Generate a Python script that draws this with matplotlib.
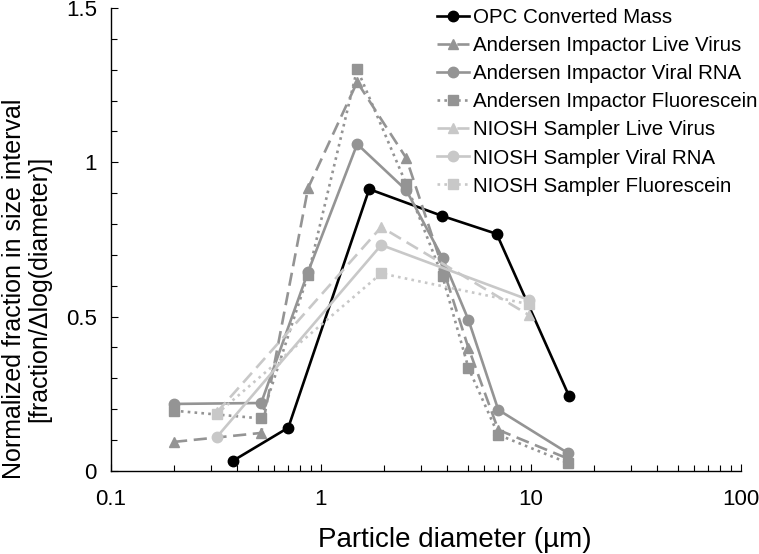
import matplotlib
matplotlib.use("Agg")
import matplotlib.pyplot as plt
from matplotlib.ticker import FixedLocator, MultipleLocator, NullFormatter

plt.rcParams['font.family'] = ['Liberation Sans', 'DejaVu Sans']

# OPC converted mass
opc_x = [0.38, 0.70, 1.70, 3.79, 6.88, 15.2]
opc_y = [0.032, 0.14, 0.913, 0.826, 0.768, 0.243]

# Andersen impactor stages
and_x = [0.2, 0.52, 0.87, 1.49, 2.55, 3.8, 5.05, 7.0, 15.0]
and_virus = [0.094, 0.123, 0.917, 1.26, 1.014, 0.66, 0.398, 0.133, 0.04]
and_rna = [0.217, 0.22, 0.645, 1.059, 0.91, 0.69, 0.489, 0.198, 0.058]
and_fluor = [0.195, 0.17, 0.635, 1.302, 0.93, 0.63, 0.333, 0.117, 0.026]

# NIOSH sampler fractions
niosh_x = [0.32, 1.94, 9.8]
niosh_virus = [0.19, 0.79, 0.505]
niosh_rna = [0.11, 0.732, 0.554]
niosh_fluor = [0.185, 0.64, 0.54]

dark = "#949494"
light = "#c8c8c8"

fig = plt.figure(figsize=(7.59, 5.54), dpi=100)
ax = fig.add_axes([0.146, 0.150, 0.830, 0.8356])

lw = 1.9
ms = 7.5
ax.plot(opc_x, opc_y, color="black", lw=lw, marker="o", ms=ms, label="OPC Converted Mass")
ax.plot(and_x, and_virus, color=dark, lw=lw, ls=(0, (5, 2.5)), marker="^", ms=ms,
        label="Andersen Impactor Live Virus")
ax.plot(and_x, and_rna, color=dark, lw=lw, marker="o", ms=ms, label="Andersen Impactor Viral RNA")
ax.plot(and_x, and_fluor, color=dark, lw=lw, ls=(0, (1, 1.6)), marker="s", ms=ms,
        label="Andersen Impactor Fluorescein")
ax.plot(niosh_x, niosh_virus, color=light, lw=lw, ls=(0, (5, 2.5)), marker="^", ms=ms,
        label="NIOSH Sampler Live Virus")
ax.plot(niosh_x, niosh_rna, color=light, lw=lw, marker="o", ms=ms, label="NIOSH Sampler Viral RNA")
ax.plot(niosh_x, niosh_fluor, color=light, lw=lw, ls=(0, (1, 1.6)), marker="s", ms=ms,
        label="NIOSH Sampler Fluorescein")

ax.set_xscale("log")
ax.set_xlim(0.1, 100)
ax.set_ylim(0, 1.5)
ax.set_xticks([0.1, 1, 10, 100])
ax.set_xticklabels(["0.1", "1", "10", "100"])
ax.xaxis.set_minor_formatter(NullFormatter())
ax.yaxis.set_major_locator(FixedLocator([0, 0.5, 1, 1.5]))
ax.set_yticklabels(["0", "0.5", "1", "1.5"])
ax.yaxis.set_minor_locator(MultipleLocator(0.1))

for side in ["top", "right"]:
    ax.spines[side].set_visible(False)
for side in ["left", "bottom"]:
    ax.spines[side].set_linewidth(1.0)

ax.tick_params(which="both", direction="in", labelsize=16, width=0.8)
ax.tick_params(which="major", length=5)
ax.tick_params(which="minor", length=4)
ax.tick_params(axis="x", pad=13)
ax.tick_params(axis="y", pad=10)

ax.set_xlabel("Particle diameter (\u00b5m)", fontsize=20)
ax.xaxis.set_label_coords(0.546, -0.122)
ax.set_ylabel("Normalized fraction in size interval\n[fraction/\u0394log(diameter)]",
              fontsize=18, linespacing=1.05)
ax.yaxis.set_label_coords(-0.095, 0.393)

ax.legend(loc="upper left", bbox_to_anchor=(0.576, 0.985), bbox_transform=fig.transFigure,
          frameon=False, fontsize=14.8, handlelength=1.55, handletextpad=0.2,
          labelspacing=0.44, borderpad=0, borderaxespad=0)

fig.savefig("out.png", dpi=100)
